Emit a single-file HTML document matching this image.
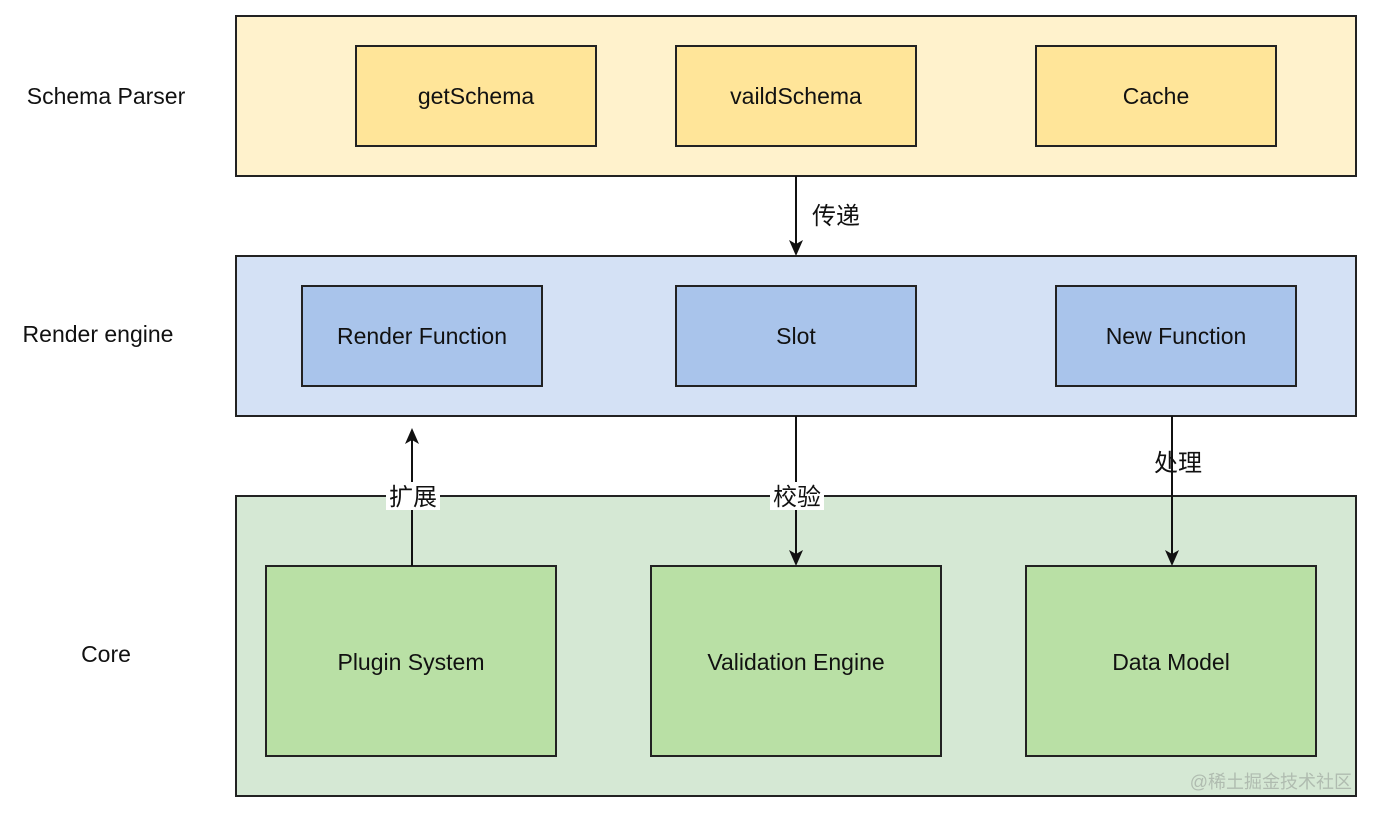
<!DOCTYPE html>
<html><head><meta charset="utf-8"><style>
html,body{margin:0;padding:0;background:#fff;}
svg{display:block;}
text{font-family:"Liberation Sans","Noto Sans CJK SC",sans-serif;font-size:23px;fill:#111;}
.cj{font-size:24px;}
</style></head><body>
<svg width="1374" height="814" viewBox="0 0 1374 814" xmlns="http://www.w3.org/2000/svg">
<g stroke="#222" stroke-width="2">
<rect x="236" y="16" width="1120" height="160" fill="#fff2cc"/>
<rect x="356" y="46" width="240" height="100" fill="#ffe599"/>
<rect x="676" y="46" width="240" height="100" fill="#ffe599"/>
<rect x="1036" y="46" width="240" height="100" fill="#ffe599"/>
<rect x="236" y="256" width="1120" height="160" fill="#d4e1f5"/>
<rect x="302" y="286" width="240" height="100" fill="#a9c4eb"/>
<rect x="676" y="286" width="240" height="100" fill="#a9c4eb"/>
<rect x="1056" y="286" width="240" height="100" fill="#a9c4eb"/>
<rect x="236" y="496" width="1120" height="300" fill="#d5e8d4"/>
<rect x="266" y="566" width="290" height="190" fill="#b9e0a5"/>
<rect x="651" y="566" width="290" height="190" fill="#b9e0a5"/>
<rect x="1026" y="566" width="290" height="190" fill="#b9e0a5"/>
</g>
<g stroke="#111" stroke-width="2" fill="none">
<line x1="796" y1="176" x2="796" y2="244"/>
<line x1="412" y1="566" x2="412" y2="440"/>
<line x1="796" y1="416" x2="796" y2="554"/>
<line x1="1172" y1="416" x2="1172" y2="554"/>
</g>
<g fill="#111">
<polygon points="789,240 796,256 803,240 796,244"/>
<polygon points="405,444 412,428 419,444 412,440"/>
<polygon points="789,550 796,566 803,550 796,554"/>
<polygon points="1165,550 1172,566 1179,550 1172,554"/>
</g>
<rect x="386" y="482" width="54" height="28" fill="#fff"/>
<rect x="770" y="482" width="54" height="28" fill="#fff"/>
<g text-anchor="middle">
<text x="106" y="104">Schema Parser</text>
<text x="98" y="342">Render engine</text>
<text x="106" y="662">Core</text>
<text x="476" y="104">getSchema</text>
<text x="796" y="104">vaildSchema</text>
<text x="1156" y="104">Cache</text>
<text x="422" y="344">Render Function</text>
<text x="796" y="344">Slot</text>
<text x="1176" y="344">New Function</text>
<text x="411" y="670">Plugin System</text>
<text x="796" y="670">Validation Engine</text>
<text x="1171" y="670">Data Model</text>
<text class="cj" x="836" y="224">传递</text>
<text class="cj" x="413" y="505">扩展</text>
<text class="cj" x="797" y="505">校验</text>
<text class="cj" x="1178" y="471">处理</text>
</g>
<text x="1352" y="788" text-anchor="end" style="font-size:18px;fill:#b0bcb0;">@稀土掘金技术社区</text>
</svg>
</body></html>
